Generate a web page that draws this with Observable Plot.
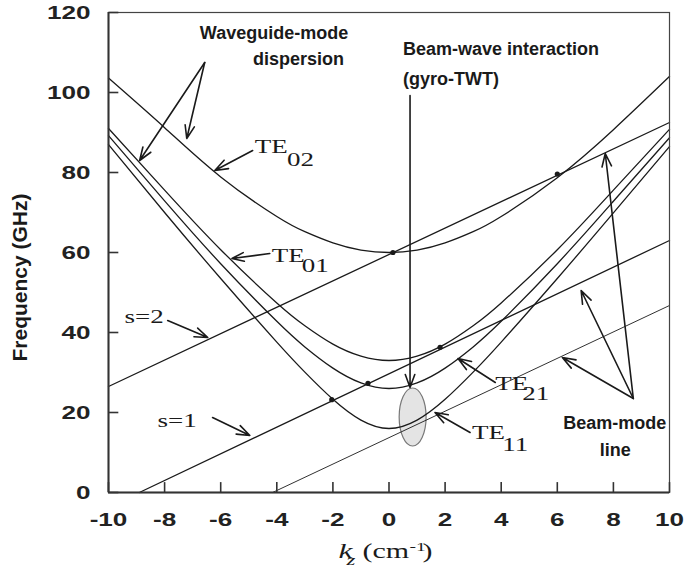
<!DOCTYPE html>
<html>
<head>
<meta charset="utf-8">
<script src="https://cdn.jsdelivr.net/npm/d3@7"></script>
<script src="https://cdn.jsdelivr.net/npm/@observablehq/plot@0.6"></script>
<style>
  html, body { margin: 0; padding: 0; background: #fff; }
</style>
</head>
<body>
<script>
// ---- data ----
const kGrid = [-10, -8, -6, -4, -3, -2, -1, 0, 1, 2, 3, 4, 6, 8, 10];
const te11 = [87.0, 70.0, 53.5, 37.6, 30.1, 23.3, 18.1, 16.0, 18.1, 23.3, 30.1, 37.6, 53.5, 69.9, 86.5];
const te21 = [89.2, 72.9, 57.2, 42.8, 36.4, 31.1, 27.4, 26.0, 27.4, 31.1, 36.4, 42.8, 57.2, 72.8, 88.7];
const te01 = [91.0, 75.6, 60.7, 47.4, 41.7, 37.1, 34.1, 33.0, 34.1, 37.1, 41.7, 47.4, 60.7, 75.6, 90.8];
const te02 = [103.6, 91.2, 78.9, 69.0, 65.2, 62.4, 60.6, 60.0, 60.6, 62.4, 65.2, 69.0, 78.7, 90.7, 104.0];
const modeNames = ["TE11", "TE21", "TE01", "TE02"];
const modeValues = [te11, te21, te01, te02];

// beam-mode lines (k, f) end points
const beamS2 = [[-10, 26.5], [10, 92.5]];
const beamS1 = [[-8.9, 0], [10, 63]];
const beamS1b = [[-4.15, 0], [10, 46.75]];

// intersection dots
const dotK = [-2.04, -0.75, 1.82, 0.14, 6.0];
const dotF = [23.2, 27.3, 36.3, 60.0, 79.6];

const xTicks = [-10, -8, -6, -4, -2, 0, 2, 4, 6, 8, 10];
const yTicks = [0, 20, 40, 60, 80, 100, 120];
const yTitle = "Frequency (GHz)";

// ---- tables built from the arrays ----
const modeRows = modeNames.flatMap((m, j) => kGrid.map((k, i) => ({mode: m, k, f: modeValues[j][i]})));
const beamRows = [["s2", beamS2], ["s1", beamS1]].flatMap(([id, pts]) => pts.map(([k, f]) => ({id, k, f})));
const beamThinRows = beamS1b.map(([k, f]) => ({k, f}));
const dots = dotK.map((k, i) => ({k, f: dotF[i]}));

// annotation arrows (data coordinates)
const arrows = [
  {x1: -6.57, y1: 107.5, x2: -8.89, y2: 83.0},
  {x1: -6.57, y1: 107.5, x2: -7.21, y2: 88.5},
  {x1: -4.86, y1: 85.5, x2: -6.21, y2: 80.5},
  {x1: -4.25, y1: 59.75, x2: -5.6, y2: 58.5},
  {x1: -7.89, y1: 43.0, x2: -6.46, y2: 38.75},
  {x1: -6.29, y1: 18.75, x2: -4.96, y2: 14.25},
  {x1: 0.75, y1: 99.25, x2: 0.75, y2: 26.25},
  {x1: 3.79, y1: 27.5, x2: 2.46, y2: 33.5},
  {x1: 2.89, y1: 15.0, x2: 1.64, y2: 20.0},
  {x1: 8.71, y1: 23.5, x2: 6.18, y2: 33.75},
  {x1: 8.71, y1: 23.5, x2: 6.85, y2: 50.5},
  {x1: 8.71, y1: 23.5, x2: 7.71, y2: 84.75}
];

const boldNotes = [
  {t: "Waveguide-mode", k: -4.1, f: 114.75, a: "middle"},
  {t: "dispersion", k: -3.23, f: 108.4, a: "middle"},
  {t: "Beam-wave interaction", k: 0.5, f: 110.9, a: "start"},
  {t: "(gyro-TWT)", k: 0.5, f: 103.25, a: "start"},
  {t: "Beam-mode", k: 8.05, f: 17.25, a: "middle"},
  {t: "line", k: 8.07, f: 10.5, a: "middle"}
];

const serifMain = [
  {t: "TE", k: -4.79, f: 86.25},
  {t: "TE", k: -4.18, f: 59.0},
  {t: "TE", k: 3.79, f: 27.0},
  {t: "TE", k: 2.96, f: 14.75},
  {t: "s=2", k: -9.43, f: 43.75},
  {t: "s=1", k: -8.25, f: 17.75}
];
const serifSub = [
  {t: "02", k: -3.64, f: 83.0},
  {t: "01", k: -3.11, f: 56.5},
  {t: "21", k: 4.75, f: 24.5},
  {t: "11", k: 4.04, f: 11.75}
];

const spot = {k: 0.86, f: 18.75, rk: 0.48, rf: 7.25};

// x-axis label pieces: text, dx from left frame edge, dy from bottom frame edge
const xLabelParts = [
  {t: "k", dx: 230, dy: 65, size: 21, style: "italic"},
  {t: "z", dx: 238, dy: 72, size: 15, style: "italic"},
  {t: "(cm", dx: 254, dy: 65, size: 20, style: "normal"},
  {t: "-1", dx: 301, dy: 58, size: 13, style: "normal"},
  {t: ")", dx: 314, dy: 65, size: 20, style: "normal"}
];

const ink = "#1a1a1a";
const sans = "Liberation Sans, Arial, sans-serif";
const serif = "Liberation Serif";
const tickFont = "Liberation Sans";

function ellipseMark(index, scales) {
  const x = scales.x, y = scales.y;
  const g = d3.create("svg:g");
  g.append("ellipse")
    .attr("cx", x(spot.k)).attr("cy", y(spot.f))
    .attr("rx", Math.abs(x(spot.k + spot.rk) - x(spot.k)))
    .attr("ry", Math.abs(y(spot.f + spot.rf) - y(spot.f)))
    .attr("fill", "#e4e4e4").attr("stroke", "#777").attr("stroke-width", 1.2);
  return g.node();
}

const svg = Plot.plot({
  width: 687,
  height: 567,
  marginLeft: 108,
  marginRight: 18,
  marginTop: 12,
  marginBottom: 75,
  x: {domain: [-10, 10], axis: null},
  y: {domain: [0, 120], axis: null},
  style: {background: "#fff", fontFamily: sans},
  marks: [
    ellipseMark,
    Plot.line(modeRows, {x: "k", y: "f", z: "mode", curve: "natural", stroke: ink, strokeWidth: 1.3}),
    Plot.line(beamRows, {x: "k", y: "f", z: "id", stroke: ink, strokeWidth: 1.3}),
    Plot.line(beamThinRows, {x: "k", y: "f", stroke: ink, strokeWidth: 0.9}),
    Plot.dot(dots, {x: "k", y: "f", r: 2.6, fill: ink, stroke: null}),
    Plot.arrow(arrows, {x1: "x1", y1: "y1", x2: "x2", y2: "y2", stroke: ink, strokeWidth: 1.6, headLength: 13, headAngle: 40}),
    Plot.frame({stroke: "#444", strokeWidth: 1.2}),
    Plot.ruleX([-10], {stroke: "#333", strokeWidth: 2}),
    Plot.ruleY([0], {stroke: "#333", strokeWidth: 2}),
    Plot.link(xTicks, {x1: d => d, x2: d => d, y1: () => 0, y2: () => 2.6, stroke: "#333", strokeWidth: 1.6}),
    Plot.link(yTicks, {y1: d => d, y2: d => d, x1: () => -10, x2: () => -9.65, stroke: "#333", strokeWidth: 1.6}),
    Plot.text(xTicks, {x: d => d, text: d => String(d), frameAnchor: "bottom", dy: 33, fontSize: 18, fontWeight: "bold", fontFamily: tickFont, fill: "#222"}),
    Plot.text(yTicks, {y: d => d, text: d => String(d), frameAnchor: "left", textAnchor: "end", dx: -18, dy: 1, fontSize: 18, fontWeight: "bold", fontFamily: tickFont, fill: "#222"}),
    Plot.text([yTitle], {x: () => -10, y: () => 53.75, text: d => d, textAnchor: "middle", rotate: -90, dx: -88, fontSize: 21, fontWeight: "bold", fill: ink}),
    ...xLabelParts.map(p => Plot.text([p.t], {text: d => d, frameAnchor: "bottom-left", textAnchor: "start", lineAnchor: "bottom", dx: p.dx, dy: p.dy, fontSize: p.size, fontStyle: p.style, fontFamily: serif, fill: ink})),
    Plot.text(boldNotes.filter(d => d.a === "middle"), {x: "k", y: "f", text: "t", textAnchor: "middle", fontSize: 18, fontWeight: "bold", fill: ink}),
    Plot.text(boldNotes.filter(d => d.a === "start"), {x: "k", y: "f", text: "t", textAnchor: "start", fontSize: 18, fontWeight: "bold", fill: ink}),
    Plot.text(serifMain, {x: "k", y: "f", text: "t", textAnchor: "start", fontSize: 18, fontFamily: serif, fill: ink}),
    Plot.text(serifSub, {x: "k", y: "f", text: "t", textAnchor: "start", fontSize: 18, fontFamily: serif, fill: ink})
  ]
});
document.body.append(svg);

// the original figure's lettering is horizontally stretched
function stretch(family, factor) {
  svg.querySelectorAll("text").forEach(t => {
    const fam = getComputedStyle(t).fontFamily.replace(/["']/g, "").trim();
    if (fam !== family) return;
    const w = t.getComputedTextLength();
    if (w > 0) {
      t.setAttribute("textLength", (w * factor).toFixed(1));
      t.setAttribute("lengthAdjust", "spacingAndGlyphs");
    }
  });
}
stretch(serif, 1.5);
stretch(tickFont, 1.45);
</script>
</body>
</html>
